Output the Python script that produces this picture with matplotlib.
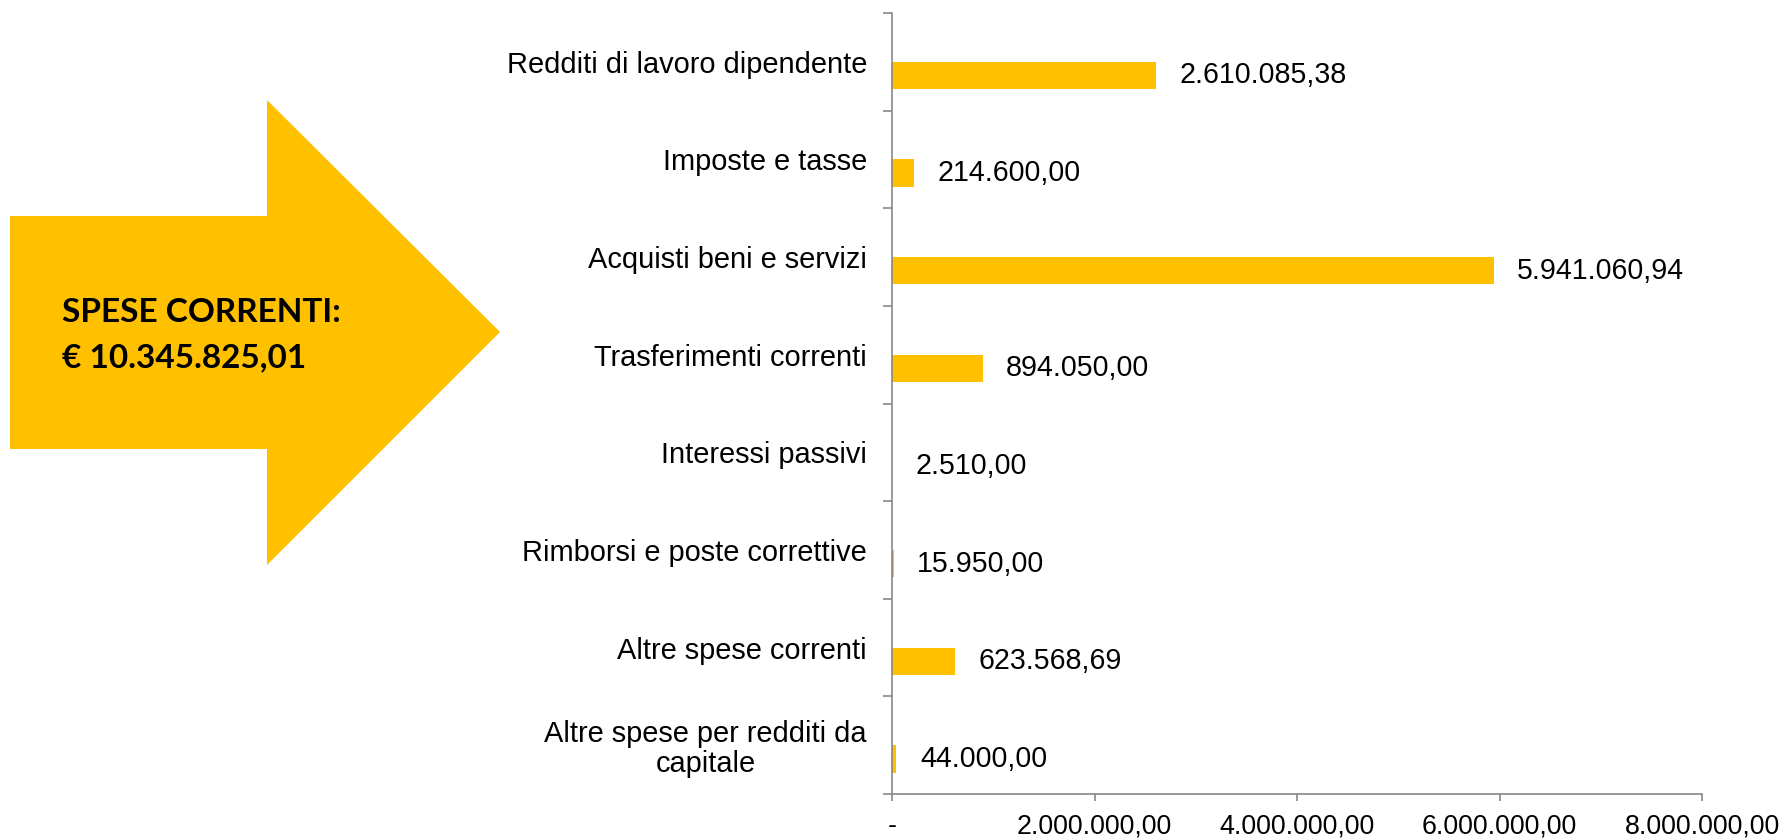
import numpy as np
import matplotlib.pyplot as plt
from matplotlib.patches import Polygon
from matplotlib.ticker import FuncFormatter

categorie = ['Redditi di lavoro dipendente', 'Imposte e tasse', 'Acquisti beni e servizi',
             'Trasferimenti correnti', 'Interessi passivi', 'Rimborsi e poste correttive',
             'Altre spese correnti', 'Altre spese per redditi da\ncapitale']
valori = [2610085.38, 214600.00, 5941060.94, 894050.00, 2510.00, 15950.00, 623568.69, 44000.00]
x_ticks = [0, 2000000, 4000000, 6000000, 8000000]
totale = 'SPESE CORRENTI:'
totale_val = '€ 10.345.825,01'

GOLD = '#FFC000'
GREY = '#888888'


def it_fmt(v):
    s = f"{v:,.2f}"
    return s.replace(',', '#').replace('.', ',').replace('#', '.')


plt.rcParams['font.family'] = ['Liberation Sans', 'DejaVu Sans']

fig = plt.figure(figsize=(17.84, 8.4), dpi=100)
ax = fig.add_axes([892 / 1784, 1 - 794 / 840, (1702 - 892) / 1784, (794 - 13) / 840])

n = len(categorie)
pos = np.arange(n) + 0.5
h = 0.28
ax.barh(pos + h / 2, valori, height=h, color=GOLD)
for p, v in zip(pos, valori):
    ax.annotate(it_fmt(v), (v, p + h / 2), xytext=(17, 0), textcoords='offset points',
                va='center', ha='left', fontsize=20.6)

ax.set_ylim(n, 0)
ax.set_xlim(0, 8000000)
ax.set_yticks(np.arange(n + 1))
ax.set_yticklabels([])
ax.set_yticks(pos, minor=True)
ax.set_yticklabels(categorie, minor=True, fontsize=20.9, multialignment='center',
                   linespacing=1.1)
ax.tick_params(axis='y', which='major', length=6.5, color=GREY, width=1.2)
ax.tick_params(axis='y', which='minor', length=0, pad=18)

ax.set_xticks(x_ticks)
ax.xaxis.set_major_formatter(FuncFormatter(lambda v, _: '-' if v == 0 else it_fmt(v)))
ax.tick_params(axis='x', length=5, color=GREY, width=1.2, labelsize=19.3, pad=9)

for s in ['top', 'right']:
    ax.spines[s].set_visible(False)
for s in ['left', 'bottom']:
    ax.spines[s].set_color(GREY)
    ax.spines[s].set_linewidth(1.2)

# freccia a sinistra
W, H = 1784, 840
pts = [(10, 216), (267, 216), (267, 100), (500, 332), (267, 565), (267, 449), (10, 449)]
arrow = Polygon([(x / W, 1 - y / H) for x, y in pts], closed=True, facecolor=GOLD,
                edgecolor='none', transform=fig.transFigure)
fig.patches.append(arrow)
fig.text(62 / W, 1 - 322 / H, totale, fontsize=24, fontweight='bold', family='Lato', va='baseline')
fig.text(62 / W, 1 - 367 / H, totale_val, fontsize=24, fontweight='bold', family='Lato', va='baseline')

fig.savefig('out.png', dpi=100)
